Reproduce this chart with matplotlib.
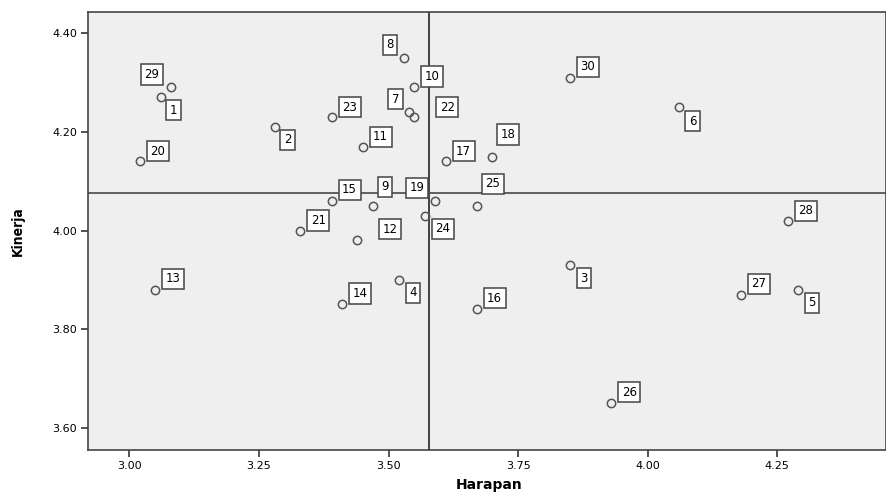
import numpy as np
import matplotlib
matplotlib.use("Agg")
from matplotlib import pyplot as plt

# case numbers with (Harapan, Kinerja)
case_ids = [1, 2, 3, 4, 5, 6, 7, 8, 9, 10,
            11, 12, 13, 14, 15, 16, 17, 18, 19, 20,
            21, 22, 23, 24, 25, 26, 27, 28, 29, 30]
harapan = [3.06, 3.28, 3.85, 3.52, 4.29, 4.06, 3.54, 3.53, 3.47, 3.55,
           3.45, 3.44, 3.05, 3.41, 3.39, 3.67, 3.61, 3.70, 3.59, 3.02,
           3.33, 3.55, 3.39, 3.57, 3.67, 3.93, 4.18, 4.27, 3.08, 3.85]
kinerja = [4.27, 4.21, 3.93, 3.90, 3.88, 4.25, 4.24, 4.35, 4.05, 4.29,
           4.17, 3.98, 3.88, 3.85, 4.06, 3.84, 4.14, 4.15, 4.06, 4.14,
           4.00, 4.23, 4.23, 4.03, 4.05, 3.65, 3.87, 4.02, 4.29, 4.31]

# reference lines (means)
mean_harapan = 3.578
mean_kinerja = 4.077

x_ticks = [3.00, 3.25, 3.50, 3.75, 4.00, 4.25]
y_ticks = [3.60, 3.80, 4.00, 4.20, 4.40]

# label box offsets in pixels (dx right, dy down)
label_off = {1: (13, 13), 2: (13, 13), 3: (14, 13), 4: (14, 13), 5: (14, 13),
             6: (14, 14), 7: (-14, -13), 8: (-14, -13), 9: (12, -19), 10: (18, -11),
             11: (18, -10), 12: (33, -11), 13: (18, -11), 14: (18, -11), 15: (18, -11),
             16: (18, -11), 17: (18, -10), 18: (16, -22), 19: (-18, -13), 20: (18, -10),
             21: (18, -10), 22: (33, -10), 23: (18, -10), 24: (18, 13), 25: (16, -22),
             26: (18, -11), 27: (18, -11), 28: (18, -10), 29: (-19, -13), 30: (18, -11)}

fig = plt.figure(figsize=(8.87, 4.97), dpi=100)
ax = fig.add_axes([88/887, 47/497, 798/887, 438/497])
ax.set_facecolor("#efefef")

ax.axvline(mean_harapan, color="#333333", lw=1.3, zorder=1)
ax.axhline(mean_kinerja, color="#555555", lw=1.3, zorder=1)

ax.plot(harapan, kinerja, "o", ms=6, mfc="none", mec="#555555", mew=1.1, zorder=3)

for cid, hx, ky in zip(case_ids, harapan, kinerja):
    dx, dy = label_off[cid]
    ax.annotate(str(cid), (hx, ky), xytext=(dx, -dy), textcoords="offset pixels",
                ha="center", va="center", fontsize=8.5, family="DejaVu Sans",
                bbox=dict(boxstyle="square,pad=0.3", fc="white", ec="#444444", lw=1.1),
                zorder=4)

ax.set_xlim(2.92, 4.46)
ax.set_ylim(3.555, 4.443)
ax.set_xticks(x_ticks)
ax.set_yticks(y_ticks)
ax.set_xticklabels(["%.2f" % v for v in x_ticks])
ax.set_yticklabels(["%.2f" % v for v in y_ticks])
ax.tick_params(labelsize=8, length=5, width=1.2, color="#333333", direction="out", pad=3)

for s in ax.spines.values():
    s.set_color("#444444")
    s.set_linewidth(1.2)

ax.set_xlabel("Harapan", fontsize=10, fontweight="bold", va="center")
ax.xaxis.set_label_coords(0.503, -35/438)
ax.set_ylabel("Kinerja", fontsize=10, fontweight="bold", fontstretch="condensed", va="center")
ax.yaxis.set_label_coords(-70/798, 0.5)

fig.savefig("out.png", dpi=100)
